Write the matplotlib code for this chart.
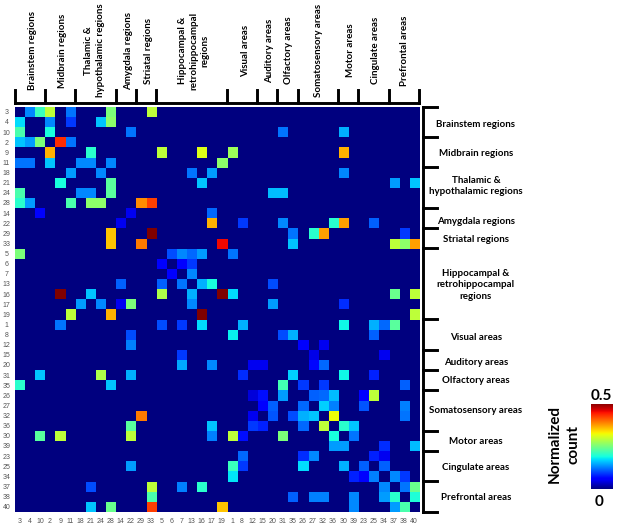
import numpy as np
import matplotlib
matplotlib.use("Agg")
import matplotlib.pyplot as plt

W, H = 617, 526

node_labels = [3,4,10,2,9,11,18,21,24,28,14,22,29,33,5,6,7,13,16,17,19,1,8,12,15,20,31,35,26,27,32,36,30,39,23,25,34,37,38,40]

group_names = ["Brainstem regions", "Midbrain regions", "Thalamic &\nhypothalamic regions",
               "Amygdala regions", "Striatal regions", "Hippocampal &\nretrohippocampal\nregions",
               "Visual areas", "Auditory areas", "Olfactory areas", "Somatosensory areas",
               "Motor areas", "Cingulate areas", "Prefrontal areas"]
group_sizes = [3,3,4,2,2,7,3,2,2,4,2,3,3]

row_columns = [
    [1,2,3,5,9,13],
    [0,3,5,8,9],
    [0,3,11,26,32],
    [0,1,2,4,5],
    [3,7,14,18,21,32],
    [0,1,3,6,7,9,20],
    [5,8,17,19,32],
    [4,9,18,37,39],
    [0,6,7,9,25,26],
    [0,1,5,7,8,12,13],
    [2,11,19],
    [10,19,22,26,31,32,35],
    [9,13,27,29,30,38],
    [9,12,20,27,37,38,39],
    [0,15,16,17,18,21],
    [14,16,17],
    [15,17],
    [10,14,16,18,19,25],
    [4,7,14,17,20,21,37,39],
    [6,8,10,11,17,25,32],
    [5,9,18,39],
    [4,14,16,18,22,32,35,36,37],
    [11,21,26,27,35],
    [11,28,30],
    [16,29,36],
    [16,19,23,24,29,30],
    [2,8,11,22,27,32,35],
    [0,9,26,28,30,38],
    [23,24,26,29,30,31,34,35],
    [24,25,28,30,31,34,38],
    [12,23,25,27,28,29,31,38],
    [11,19,23,24,28,30,32,33],
    [2,4,11,19,21,22,26,31,33],
    [31,32,36,39],
    [22,28,29,35,36],
    [11,21,22,28,32,34,36],
    [21,33,34,35,37,38],
    [7,13,16,18,36,38,39],
    [13,27,29,30,33,36,37,39],
    [7,9,13,20,33,37,38],
]
row_values = [
    [.13,.21,.29,.12,.25,.29],
    [.17,.13,.09,.16,.26],
    [.22,.19,.12,.12,.15],
    [.16,.14,.25,.43,.12],
    [.36,.20,.29,.31,.27,.36],
    [.12,.12,.16,.13,.13,.13,.26],
    [.14,.13,.12,.14,.13],
    [.19,.23,.16,.14,.16],
    [.22,.13,.13,.23,.155,.155],
    [.20,.14,.22,.26,.26,.38,.42],
    [.06,.05,.115],
    [.05,.36,.09,.13,.20,.37,.11],
    [.35,.50,.12,.20,.37,.09],
    [.35,.39,.45,.16,.29,.26,.37],
    [.25,.10,.13,.115,.14,.12],
    [.06,.06,.09],
    [.06,.13],
    [.11,.11,.12,.15,.19,.10],
    [.50,.16,.28,.15,.50,.17,.24,.29],
    [.14,.13,.05,.25,.13,.14,.085],
    [.29,.36,.50,.29],
    [.12,.10,.09,.17,.15,.185,.15,.115,.23],
    [.10,.18,.10,.15,.11],
    [.125,.055,.05],
    [.09,.045,.05],
    [.145,.13,.05,.05,.065,.115],
    [.16,.28,.15,.085,.165,.185,.08],
    [.20,.16,.215,.09,.09,.11],
    [.04,.07,.14,.11,.115,.155,.06,.29],
    [.06,.11,.115,.165,.125,.105,.125],
    [.39,.05,.105,.10,.15,.16,.32,.12],
    [.23,.16,.09,.08,.115,.29,.20,.16],
    [.23,.29,.29,.125,.29,.07,.25,.19,.12],
    [.14,.14,.085,.155],
    [.115,.085,.13,.08,.05],
    [.14,.21,.09,.17,.15,.11,.11],
    [.175,.08,.06,.125,.13,.09],
    [.10,.29,.125,.20,.13,.12,.24],
    [.22,.11,.125,.125,.13,.14,.20,.195],
    [.16,.24,.42,.35,.13,.14,.22],
]
colorbar_range = [0, 0.5]

matrix = np.zeros((len(node_labels), len(node_labels)))
for r, (cols, vals) in enumerate(zip(row_columns, row_values)):
    matrix[r, cols] = vals

plt.rcParams["font.family"] = ["Lato", "DejaVu Sans"]
fig = plt.figure(figsize=(W / 100, H / 100), dpi=100)

def box(x0, y0, x1, y1):
    return [x0 / W, 1 - y1 / H, (x1 - x0) / W, (y1 - y0) / H]

ax = fig.add_axes(box(14.7, 106.7, 419.0, 511.7))
ax.imshow(matrix, cmap="jet", vmin=colorbar_range[0], vmax=colorbar_range[1],
          interpolation="nearest", aspect="auto")
for s in ax.spines.values():
    s.set_visible(False)
ax.set_xticks(range(40), [str(v) for v in node_labels], family="Liberation Sans")
ax.set_yticks(range(40), [str(v) for v in node_labels], family="Liberation Sans", ha="center")
ax.tick_params(length=0, labelsize=5, labelcolor="#555555")
ax.tick_params(axis="x", pad=4.5)
ax.tick_params(axis="y", pad=6)

# group brackets, in cell units
edges = np.concatenate([[0], np.cumsum(group_sizes)]) - 0.5
centers = (edges[:-1] + edges[1:]) / 2
lw = 2.1
cell = 10.12
top_line = -0.5 - 4.0 / cell
top_tick = -0.5 - 17.0 / cell
right_line = 39.5 + 4.0 / cell
right_tick = 39.5 + 18.0 / cell
kw = dict(color="black", lw=lw, clip_on=False, solid_capstyle="projecting", scalex=False, scaley=False)
ax.plot([edges[0], edges[-1]], [top_line, top_line], **kw)
ax.plot([right_line, right_line], [edges[0], edges[-1]], **kw)
for e in edges:
    ax.plot([e, e], [top_line, top_tick], **kw)
    ax.plot([right_line, right_tick], [e, e], **kw)

# group labels
label_font = dict(fontsize=7, fontweight="bold", color="black", ha="center",
                  va="center", linespacing=1.35, clip_on=False)
right_x = 39.5 + 57.0 / cell
right_shift = [3, 1, -1.5, 3.5, 1, 1, 3, 2.5, 0, 0.5, 1, 1.5, 0.5]
top_shift = [3, 2, -1, 3, 2, 2, 3, 2, 1, 1, 2, 2, 1]
for name, c, rs, ts in zip(group_names, centers, right_shift, top_shift):
    ax.text(right_x, c + rs / cell, name, **label_font)
    ax.text(c + ts / cell, -0.5 - 56.0 / cell, name, rotation=90, **label_font)

# colour bar
cax = fig.add_axes(box(591, 404, 612.5, 489.3))
gradient = np.linspace(colorbar_range[1], colorbar_range[0], 256).reshape(-1, 1)
cax.imshow(gradient, cmap="jet", vmin=colorbar_range[0], vmax=colorbar_range[1], aspect="auto")
cax.axis("off")
bar_font = dict(ha="center", va="center", fontsize=11, fontweight="bold", color="black")
fig.text(601.5 / W, 1 - 396.5 / H, "0.5", **bar_font)
fig.text(598.7 / W, 1 - 502 / H, "0", **bar_font)
fig.text(555 / W, 1 - 444 / H, "Normalized", rotation=90, **bar_font)
fig.text(574 / W, 1 - 444 / H, "count", rotation=90, **bar_font)

fig.savefig("out.png", dpi=100)
